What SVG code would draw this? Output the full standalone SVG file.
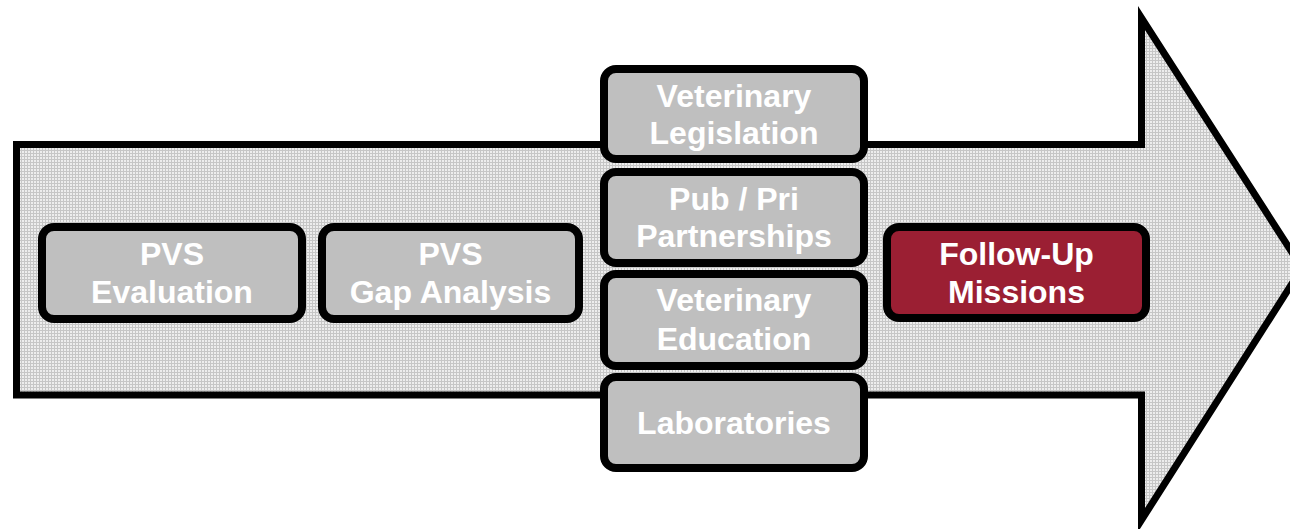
<svg xmlns="http://www.w3.org/2000/svg" width="1290" height="529" viewBox="0 0 1290 529">
<defs>
<pattern id="grid" x="0" y="0" width="3" height="3" patternUnits="userSpaceOnUse">
<rect width="3" height="3" fill="#ededed"/>
<rect width="3" height="1" fill="#c6c6c6"/>
<rect width="1" height="3" fill="#c6c6c6"/>
</pattern>
<style>
.box{fill:#bfbfbf;stroke:#000;stroke-width:8}
.red{fill:#9b1f33;stroke:#000;stroke-width:8}
.t{font-family:"Liberation Sans",Arial,sans-serif;font-weight:bold;font-size:32px;fill:#ffffff;text-anchor:middle}
</style>
</defs>
<rect width="1290" height="529" fill="#ffffff"/>
<g id="arrow">
<polygon points="16.5,144.5 1141.5,144.5 1141.5,18 1302,268 1141.5,520 1141.5,395 16.5,395" fill="url(#grid)" stroke="#000" stroke-width="7" stroke-linejoin="miter" stroke-miterlimit="10"/>
</g>
<g id="connectors"></g>
<g id="pvs-evaluation">
<rect class="box" x="42" y="227" width="260" height="92" rx="12"/>
<text class="t" x="172" y="265">PVS</text>
<text class="t" x="172" y="303">Evaluation</text>
</g>
<g id="pvs-gap-analysis">
<rect class="box" x="322" y="227" width="257" height="92" rx="12"/>
<text class="t" x="450.5" y="265">PVS</text>
<text class="t" x="450.5" y="303">Gap Analysis</text>
</g>
<g id="vet-legislation">
<rect class="box" x="604" y="69" width="260" height="90" rx="12"/>
<text class="t" x="734" y="107">Veterinary</text>
<text class="t" x="734" y="144">Legislation</text>
</g>
<g id="pub-pri">
<rect class="box" x="604" y="172" width="260" height="91" rx="12"/>
<text class="t" x="734" y="210">Pub / Pri</text>
<text class="t" x="734" y="247">Partnerships</text>
</g>
<g id="vet-education">
<rect class="box" x="604" y="274" width="260" height="92" rx="12"/>
<text class="t" x="734" y="311">Veterinary</text>
<text class="t" x="734" y="350">Education</text>
</g>
<g id="laboratories">
<rect class="box" x="604" y="377" width="260" height="91" rx="12"/>
<text class="t" x="734" y="434">Laboratories</text>
</g>
<g id="follow-up">
<rect class="red" x="887" y="227" width="259" height="91" rx="12"/>
<text class="t" x="1016.5" y="265">Follow-Up</text>
<text class="t" x="1016.5" y="303">Missions</text>
</g>
</svg>
